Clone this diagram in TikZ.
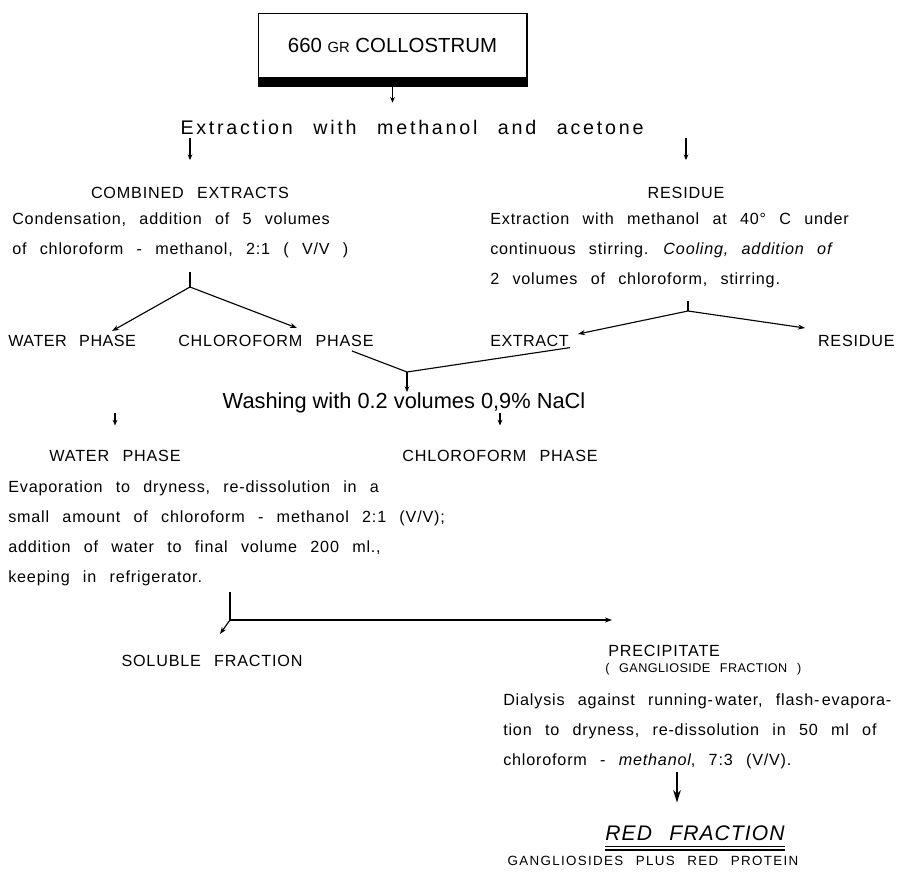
\documentclass[tikz,border=0pt]{standalone}
\usepackage{fontspec}
\setmainfont{Liberation Sans}
\newfontfamily\bodyfont[LetterSpace=5,WordSpace=2.5]{Liberation Sans}
\newfontfamily\capsfont[LetterSpace=3,WordSpace=2.5]{Liberation Sans}
\newfontfamily\headfont[LetterSpace=14,WordSpace=2.5]{Liberation Sans}
\newfontfamily\wideFont[LetterSpace=10,WordSpace=2.5]{Liberation Sans}
\usetikzlibrary{arrows.meta}

\begin{document}
\begin{tikzpicture}[x=0.25mm,y=-0.25mm,
  txt/.style={anchor=base west,inner sep=0pt,font=\bodyfont\fontsize{11.5}{14}\selectfont},
  lbl/.style={anchor=base,inner sep=0pt,font=\bodyfont\fontsize{11.5}{14}\selectfont},
  link/.style={line width=0.8pt},
  arr/.style={link,-{Stealth[length=5pt,width=3.6pt]}},
  tick/.style={line width=0.9pt,-{Stealth[length=4pt,width=3.4pt]}}]
\useasboundingbox (0,0) rectangle (904,872);

% start box
\node[draw,line width=0.6pt,minimum width=67.25mm,minimum height=16mm,inner sep=0pt,
  font=\fontsize{14.5}{17}\selectfont] (start) at (392.5,45)
  {660 {\fontsize{10.5}{12}\selectfont GR} COLLOSTRUM};
\fill (start.south west) rectangle ([yshift=-2.3mm]start.south east);
\draw[line width=1.6pt] ([xshift=-0.4pt]start.north east) -- ([xshift=-0.4pt,yshift=-2.3mm]start.south east);
\coordinate (startS) at ([yshift=-2.3mm]start.south);

\node[anchor=base,inner sep=0pt,font=\headfont\fontsize{14}{16}\selectfont] (extr) at (412,134)
  {Extraction with methanol and acetone};
\draw[tick] (startS) -- ++(0,16);

% first split
\node[lbl] (comb) at (190,198) {COMBINED EXTRACTS};
\node[lbl] (res) at (686,198) {RESIDUE};
\draw[tick,shorten >=6.6mm] (comb |- extr.south) ++(0,4) -- (comb.north);
\draw[tick,shorten >=6.6mm] (res |- extr.south) ++(0,4) -- (res.north);

\node[txt] (cond1) at (12,224) {Condensation, addition of 5 volumes};
\node[txt] (cond2) at (12,254) {of  chloroform - methanol, 2:1 ( V/V )};

\node[txt] (ext1) at (490,224) {Extraction with methanol at 40° C under};
\node[txt] (ext2) at (490,254) {continuous stirring. \textit{Cooling, addition of}};
\node[txt] (ext3) at (490,284) {2 volumes of chloroform, stirring.};

% left fork
\node[txt,font=\capsfont\fontsize{11.5}{14}\selectfont] (wat1) at (8,346) {WATER PHASE};
\node[txt] (chl1) at (178,346) {CHLOROFORM  PHASE};
\coordinate (lfTop) at (190,272);
\coordinate (lfJoin) at (190,287);
\coordinate (lfA) at (112,331);
\coordinate (lfB) at (297,328);
\draw[link] (lfTop) -- (lfJoin);
\draw[arr] (lfJoin) -- (lfA);
\draw[arr] (lfJoin) -- (lfB);

% right fork
\node[txt,font=\capsfont\fontsize{11.5}{14}\selectfont] (extract) at (490,346) {EXTRACT};
\node[txt,anchor=base east] (res2) at (895,346) {RESIDUE};
\coordinate (rfTop) at (688,301);
\coordinate (rfJoin) at (688,311);
\coordinate (rfA) at (578,334);
\coordinate (rfB) at (805,328);
\draw[link] (rfTop) -- (rfJoin);
\draw[arr] (rfJoin) -- (rfA);
\draw[arr] (rfJoin) -- (rfB);

% merge into washing
\node[anchor=base,inner sep=0pt,font=\fontsize{15.5}{18}\selectfont] (wash) at (404,408)
  {Washing with 0.2 volumes 0,9\% NaCl};
\coordinate (mgA) at (352,351);
\coordinate (mgB) at ([xshift=0.3mm,yshift=-0.4mm]extract.base east);
\coordinate (mgJoin) at (407,372);
\draw[link] (mgA) -- (mgJoin) -- (mgB);
\draw[tick] (mgJoin) -- (mgJoin |- wash.north);

\node[lbl] (wat2) at (115,461) {WATER PHASE};
\node[lbl] (chl2) at (500,461) {CHLOROFORM  PHASE};
\draw[tick,shorten >=6mm] (wat2 |- wash.south) -- (wat2.north);
\draw[tick,shorten >=6mm] (chl2 |- wash.south) -- (chl2.north);

\node[txt] (evap1) at (8,492) {Evaporation to dryness, re-dissolution in a};
\node[txt] (evap2) at (8,522) {small amount of chloroform - methanol 2:1 (V/V);};
\node[txt] (evap3) at (8,552) {addition of water to final volume  200 ml.,};
\node[txt] (evap4) at (8,582) {keeping in refrigerator.};

% bracket split
\node[lbl] (sol) at (212,666) {SOLUBLE FRACTION};
\node[txt] (prec) at (608,656) {PRECIPITATE};
\node[txt,font=\capsfont\fontsize{9}{11}\selectfont] (gang) at (605,672) {( GANGLIOSIDE FRACTION )};
\coordinate (brTop) at (230,592);
\coordinate (brJoin) at (230,620);
\coordinate (brA) at (220,634);
\coordinate (brB) at (612,620);
\draw[link] (brTop) -- (brJoin);
\draw[arr] (brJoin) -- (brA);
\draw[arr] (brJoin) -- (brB);

\node[txt] (dial1) at (503,705) {Dialysis against running-\hspace{0.15em}water, flash-\hspace{0.15em}evapora-};
\node[txt] (dial2) at (503,735) {tion to dryness, re-dissolution in 50 ml of};
\node[txt] (dial3) at (503,765) {chloroform - \textit{methanol}, 7:3 (V/V).};

% result
\node[anchor=base,inner sep=0pt,font=\bodyfont\fontsize{15}{18}\selectfont\itshape] (red) at (695,840) {RED FRACTION};
\coordinate (bigTop) at (677,772);
\draw[line width=1.2pt,-{Stealth[length=9pt,width=5.5pt]},shorten >=5.6mm] (bigTop) -- (bigTop |- red.north);
\draw[line width=0.6pt] ([yshift=-1.5mm]red.base west) -- ([yshift=-1.5mm]red.base east);
\draw[line width=1.3pt] ([yshift=-2.5mm]red.base west) -- ([yshift=-2.5mm]red.base east);
\node[anchor=base,inner sep=0pt,font=\wideFont\fontsize{9.5}{11}\selectfont] (prot) at (653,865)
  {GANGLIOSIDES PLUS RED PROTEIN};

\end{tikzpicture}
\end{document}
